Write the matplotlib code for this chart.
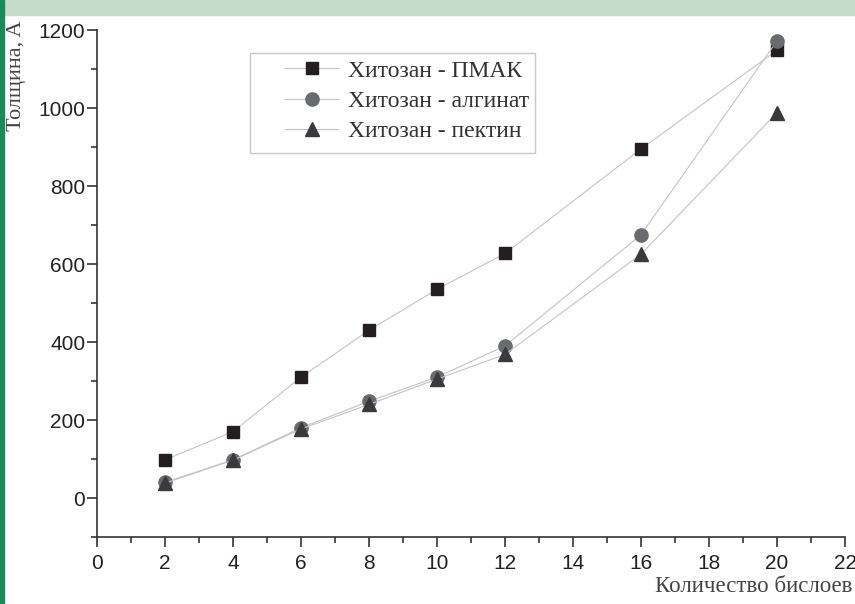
import matplotlib
matplotlib.use("Agg")
import matplotlib.pyplot as plt
from matplotlib.ticker import MultipleLocator
from matplotlib.patches import Rectangle

x_pmak = [2, 4, 6, 8, 10, 12, 16, 20]
y_pmak = [98, 170, 310, 430, 535, 627, 895, 1148]
x_alg = [2, 4, 6, 8, 10, 12, 16, 20]
y_alg = [40, 98, 180, 248, 310, 390, 675, 1172]
x_pec = [2, 4, 6, 8, 10, 12, 16, 20]
y_pec = [38, 97, 177, 240, 305, 368, 625, 988]

labels = ["Хитозан - ПМАК", "Хитозан - алгинат", "Хитозан - пектин"]
xlabel = "Количество бислоев"
ylabel = "Толщина, A"

fig = plt.figure(figsize=(8.55, 6.04), dpi=100)
# header band and left bar
fig.patches.append(Rectangle((0, 1 - 15/604), 1, 15/604, transform=fig.transFigure,
                             color="#c6dccb", zorder=0))
fig.patches.append(Rectangle((0, 0), 4/855, 1, transform=fig.transFigure,
                             color="#1b8a5a", zorder=1))

ax = fig.add_axes([97/855, 1 - 537/604, 748/855, 507/604])
ax.set_facecolor("none")
line_kw = dict(color="#c4c4c4", lw=0.8)
ax.plot(x_pmak, y_pmak, marker="s", ms=8.5, mfc="#231f20", mec="#231f20", label=labels[0], **line_kw)
ax.plot(x_alg, y_alg, marker="o", ms=9.5, mfc="#6a6b6e", mec="#6a6b6e", label=labels[1], **line_kw)
ax.plot(x_pec, y_pec, marker="^", ms=10.5, mfc="#3a3a3c", mec="#3a3a3c", label=labels[2], **line_kw)

ax.set_xlim(0, 22)
ax.set_ylim(-100, 1200)
ax.xaxis.set_major_locator(MultipleLocator(2))
ax.xaxis.set_minor_locator(MultipleLocator(1))
ax.yaxis.set_major_locator(MultipleLocator(200))
ax.yaxis.set_minor_locator(MultipleLocator(100))
for s in ["top", "right"]:
    ax.spines[s].set_visible(False)
for s in ["left", "bottom"]:
    ax.spines[s].set_color("#333333")
    ax.spines[s].set_linewidth(1.2)
ax.tick_params(which="major", direction="out", length=7, width=1.2, color="#333333",
               labelsize=15, labelcolor="#222222")
ax.tick_params(axis="y", which="major", pad=1.5)
ax.tick_params(axis="x", which="major", pad=5)
ax.tick_params(which="minor", direction="out", length=4, width=1.2, color="#333333")
for t in ax.get_xticklabels() + ax.get_yticklabels():
    t.set_fontfamily("Liberation Sans")

# legend frame drawn separately
ax.add_patch(Rectangle((153/748, 384/507), 285/748, 100/507, transform=ax.transAxes,
                       fill=True, facecolor="white", edgecolor="#c8c8c8", lw=1.0, zorder=4))
leg = ax.legend(loc="upper left", bbox_to_anchor=(188/748, 477/507), frameon=False,
                prop={"family": "Liberation Serif", "size": 17},
                handlelength=2.25, borderpad=0, labelspacing=0.37, handletextpad=0.4,
                borderaxespad=0)
leg.set_zorder(5)
for t in leg.get_texts():
    t.set_color("#333333")

fig.text(852/855, 1 - 586/604, xlabel, ha="right", va="center",
         fontfamily="Liberation Serif", fontsize=16.5, color="#444444")
fig.text(16/855, 1 - 20/604, ylabel, ha="center", va="top", rotation=90,
         fontfamily="Liberation Serif", fontsize=16, color="#444444")

fig.savefig("out.png", dpi=100)
